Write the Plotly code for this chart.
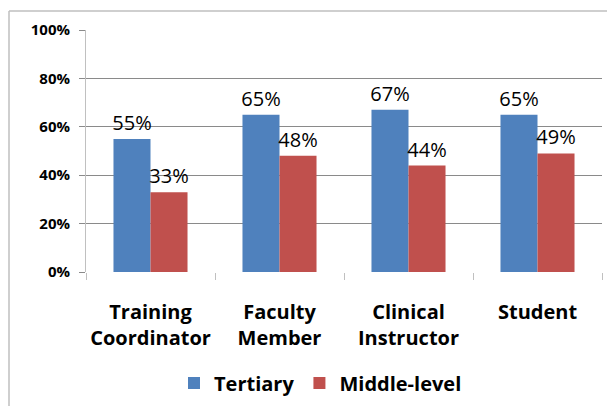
import plotly.graph_objects as go

categories = ["Training<br>Coordinator", "Faculty<br>Member", "Clinical<br>Instructor", "Student"]
tertiary = [0.55, 0.65, 0.67, 0.65]
middle_level = [0.33, 0.48, 0.44, 0.49]
tertiary_labels = ["55%", "65%", "67%", "65%"]
middle_labels = ["33%", "48%", "44%", "49%"]

W, H = 607, 406
ML, MR, MT, MB = 86, 5, 30, 134
pw = W - ML - MR
ph = H - MT - MB

def px_x(x):
    return (x - ML) / pw

def px_y(y):
    return (H - MB - y) / ph

font_family = "Open Sans, Noto Sans, DejaVu Sans, sans-serif"

fig = go.Figure()
fig.add_trace(go.Bar(
    x=categories, y=tertiary, name="Tertiary",
    marker=dict(color="#4F81BD", line=dict(width=0)),
    text=tertiary_labels, textposition="outside", constraintext="none",
    textfont=dict(size=20, color="black", family=font_family),
    cliponaxis=False,
))
fig.add_trace(go.Bar(
    x=categories, y=middle_level, name="Middle-level",
    marker=dict(color="#C0504D", line=dict(width=0)),
    text=middle_labels, textposition="outside", constraintext="none",
    textfont=dict(size=20, color="black", family=font_family),
    cliponaxis=False,
))

fig.update_layout(
    width=W, height=H,
    margin=dict(l=ML, r=MR, t=MT, b=MB, autoexpand=False),
    paper_bgcolor="white", plot_bgcolor="white",
    barmode="group", bargap=0.426, bargroupgap=0,
    font=dict(family=font_family, color="black"),
    showlegend=True,
    legend=dict(
        orientation="h", x=px_x(174), xanchor="left",
        y=px_y(383), yanchor="middle",
        font=dict(size=20, weight="bold", color="black", family=font_family),
        bgcolor="rgba(0,0,0,0)",
    ),
    xaxis=dict(
        showgrid=False, showline=True, linecolor="white", linewidth=1,
        zeroline=False,
        ticks="outside", tickson="boundaries", ticklen=7,
        tickcolor="#c0c0c0", tickwidth=1, tickangle=0, automargin=False,
        tickfont=dict(size=20, weight="bold", color="black", family=font_family),
        ticklabelstandoff=22,
    ),
    yaxis=dict(
        range=[0, 1], dtick=0.2, tickformat=".0%", automargin=False,
        showgrid=True, gridcolor="#8a8a8a", gridwidth=1,
        zeroline=False,
        showline=True, linecolor="#c0c0c0", linewidth=1,
        ticks="outside", ticklen=6, tickcolor="#8a8a8a",
        tickfont=dict(size=15, weight="bold", color="black", family=font_family),
        ticklabelstandoff=6,
    ),
    shapes=[
        dict(type="line", xref="paper", yref="paper",
             x0=px_x(9), x1=px_x(607), y0=px_y(11), y1=px_y(11),
             line=dict(color="#bfbfbf", width=1.5)),
        dict(type="line", xref="paper", yref="paper",
             x0=px_x(9), x1=px_x(9), y0=px_y(11), y1=px_y(406),
             line=dict(color="#bfbfbf", width=1.5)),
    ],
)

fig.write_html("out.html", config={"displayModeBar": False},
               post_script="document.body.style.margin='0';document.body.style.padding='0';")
